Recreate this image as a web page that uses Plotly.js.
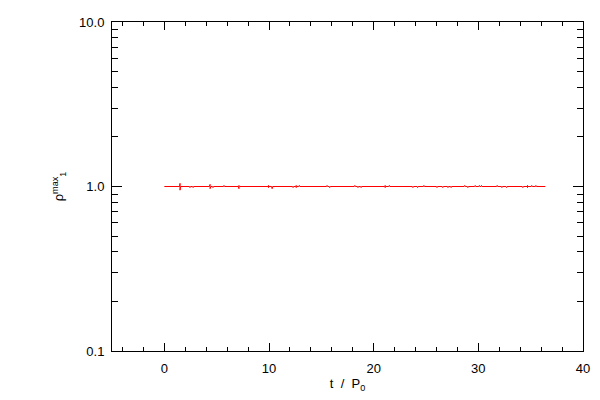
<!DOCTYPE html>
<html><head><meta charset="utf-8">
<script src="https://cdn.plot.ly/plotly-3.0.1.min.js"></script>
<style>html,body{margin:0;padding:0;background:#fff}</style>
</head><body><div id="chart" style="width:600px;height:400px"></div>
<script>
// time (t / P0) and rho_max_1 values
const tValues = [0,
 1.45,1.5,1.5,1.55, 2.4,2.45,2.5, 2.7,2.75,2.8,
 4.3,4.37,4.37,4.45, 4.6,4.65,4.7, 5.65,5.7,5.75, 7.08,7.13,7.13,7.2,
 9.9,9.95,9.95,10.0, 10.25,10.3,10.35, 12.25,12.3,12.35, 12.55,12.6,12.6,12.65, 12.85,12.9,12.95,
 15.5,15.55,15.6, 15.75,15.8,15.85, 18.15,18.2,18.25, 18.45,18.5,18.55, 18.75,18.8,18.85,
 21.05,21.1,21.1,21.15, 21.45,21.5,21.55, 23.7,23.75,23.8, 24.15,24.2,24.25, 24.75,24.8,24.85,
 26.0,26.05,26.1, 26.55,26.6,26.65, 27.05,27.1,27.15, 27.35,27.4,27.45, 28.65,28.7,28.75, 28.95,29.0,29.05,
 29.65,29.7,29.75, 30.05,30.1,30.15, 30.25,30.3,30.35, 31.75,31.8,31.85, 32.2,32.25,32.3, 32.65,32.7,32.75,
 34.2,34.25,34.3, 34.65,34.7,34.7,34.75, 35.05,35.1,35.15, 35.45,35.5,35.55, 36.4];
const rhoValues = [1.0,
 1.0,1.045,0.95,1.0, 1.0,0.985,1.0, 1.0,0.985,1.0,
 1.0,1.03,0.97,1.0, 1.0,0.985,1.0, 1.0,1.015,1.0, 1.0,0.97,1.015,1.0,
 1.0,1.015,0.985,1.0, 1.0,0.97,1.0, 1.0,0.985,1.0, 1.0,1.015,0.985,1.0, 1.0,1.015,1.0,
 1.0,1.015,1.0, 1.0,0.985,1.0, 1.0,1.015,1.0, 1.0,0.985,1.0, 1.0,0.985,1.0,
 1.0,1.015,0.985,1.0, 1.0,1.015,1.0, 1.0,0.985,1.0, 1.0,0.985,1.0, 1.0,1.015,1.0,
 1.0,0.985,1.0, 1.0,0.985,1.0, 1.0,0.985,1.0, 1.0,0.985,1.0, 1.0,1.015,1.0, 1.0,0.985,1.0,
 1.0,1.015,1.0, 1.0,1.015,1.0, 1.0,1.015,1.0, 1.0,1.015,1.0, 1.0,0.985,1.0, 1.0,0.985,1.0,
 1.0,0.985,1.0, 1.0,0.985,1.015,1.0, 1.0,1.015,1.0, 1.0,1.015,1.0, 1.0];
const xTickVals = [0, 10, 20, 30, 40];
const yTickVals = [0.1, 1, 10];
const yTickText = ["0.1", "1.0", "10.0"];

const traces = [{
  x: tValues, y: rhoValues, type: 'scatter', mode: 'lines',
  line: {color: '#ff0000', width: 1}, hoverinfo: 'skip'
}];
const fnt = {family: 'Liberation Sans, Arial, sans-serif', size: 13, color: '#000'};
const layout = {
  width: 600, height: 400,
  margin: {l: 112, r: 17, t: 22, b: 49, pad: 0},
  paper_bgcolor: '#fff', plot_bgcolor: '#fff',
  showlegend: false,
  font: fnt,
  xaxis: {
    range: [-5, 40], tickvals: xTickVals, ticks: 'inside', ticklen: 8, tickwidth: 1, tickcolor: '#000',
    minor: {dtick: 2, ticks: 'inside', ticklen: 4, tickcolor: '#000', showgrid: false},
    showline: true, linecolor: '#000', linewidth: 1, mirror: 'allticks',
    showgrid: false, zeroline: false, tickfont: fnt, ticklabelstandoff: 5,
    title: {text: 't  /  P<sub>0</sub>', font: fnt, standoff: 4}
  },
  yaxis: {
    type: 'log', range: [-1, 1], tickvals: yTickVals, ticktext: yTickText,
    ticks: 'inside', ticklen: 10, tickwidth: 1, tickcolor: '#000',
    minor: {dtick: 'D1', ticks: 'inside', ticklen: 6, tickcolor: '#000', showgrid: false},
    showline: true, linecolor: '#000', linewidth: 1, mirror: 'allticks',
    showgrid: false, zeroline: false, tickfont: fnt, ticklabelstandoff: 4,
    title: {text: 'ρ<sup>max</sup><sub>1</sub>', font: fnt, standoff: 12}
  }
};
Plotly.newPlot('chart', traces, layout, {staticPlot: true, displayModeBar: false});
</script></body></html>
